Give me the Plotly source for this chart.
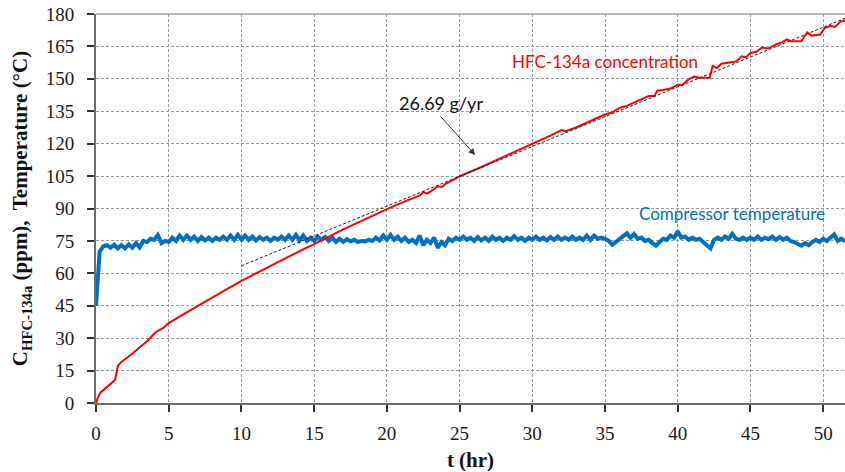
import plotly.graph_objects as go

# ---- data ----
# HFC-134a concentration (ppm) vs time (hr)
hfc_t = [0, 0.1, 0.3, 0.6, 1.0, 1.3, 1.4, 1.5, 1.7, 2.0, 2.5, 3.0, 3.5, 4.0, 4.2, 4.6, 5.0,
         6, 7, 8, 9, 10, 11, 12, 13, 14, 15, 16, 17, 18, 19, 20, 20.5, 21, 21.5, 22, 22.3,
         22.5, 22.8, 23.2, 23.5, 23.8, 24, 24.5, 25, 25.5, 26, 26.5, 27, 27.5, 28, 28.5, 29,
         29.5, 30, 30.5, 31, 31.5, 32, 32.3, 33, 33.5, 34, 34.5, 35, 35.5, 36, 36.5, 37, 37.5,
         38, 38.4, 38.6, 39, 39.5, 40, 40.3, 40.7, 41.1, 41.5, 42.2, 42.4, 42.7, 43, 43.5, 44,
         44.4, 44.7, 45, 45.4, 45.8, 46.2, 46.8, 47.2, 47.5, 47.8, 48.5, 48.9, 49.2, 49.8,
         50.1, 50.5, 50.8, 51.2, 51.5]
hfc_c = [0, 2, 4.8, 6.5, 8.8, 10.6, 13.5, 17, 18.8, 20.2, 22.8, 25.8, 28.5, 32, 33.2, 34.6, 37,
         41, 45, 49, 52.7, 56.5, 60, 63.5, 67, 70.3, 73.5, 77, 80.3, 83.5, 86.7, 89.7, 91.2, 92.6,
         94, 95.5, 96.2, 97.6, 97.0, 98.8, 100.3, 100.0, 101.3, 103, 104.9, 106.3, 107.6, 109.2,
         110.8, 112.3, 114, 115.5, 117, 118.5, 120, 121.5, 123, 124.5, 126.3, 125.8, 127.5, 129,
         130.5, 132, 133.5, 134.5, 136.5, 137.5, 139, 140.5, 142, 142, 144.5, 144.8, 145.5, 147.2,
         147, 149.5, 151, 150.5, 150.5, 156, 155, 157, 157.5, 158, 160.4, 160, 162, 162.5, 164.5,
         164, 166, 167, 168.3, 167.4, 167.4, 171.5, 170, 170.5, 173.5, 174.5, 174, 176.5, 177]

# Compressor temperature (deg C), sampled every 0.25 hr from t = 0
temp_step = 0.25
temp_c = [
    45, 70, 72.5, 73, 71.8, 73.2, 71.5, 73, 71.6, 73.4, 71.8, 74, 72, 75, 74.5, 76, 75.5, 77.8, 74, 75,
    74.5, 76.5, 75, 77.5, 75.5, 77.5, 75.5, 77, 75, 76.8, 75.2, 76.5, 75, 76.5, 75.5, 77, 75.5, 77.5, 75.5, 77.8,
    75.5, 77.5, 75.5, 77, 75.2, 76.8, 75.5, 76.5, 75, 76.5, 75.5, 77, 75.5, 77.5, 75.5, 77.8, 75.2, 77.5, 75, 76.5,
    75, 77, 75.5, 76.8, 75, 76.5, 74.5, 76, 74.5, 75.8, 74.8, 75.5, 74.5, 75, 74.8, 75.5, 75, 76.5, 75.2, 77.5,
    75.5, 77.8, 75.5, 77, 75, 76.5, 74.5, 75.5, 74, 77.5, 73, 75.5, 74, 76.5, 71.8, 74.5, 73, 76, 75, 76.5,
    75.5, 77, 75.5, 76.5, 75, 76.8, 75.2, 76.5, 75, 77, 75.5, 76.5, 75, 76.5, 75.5, 77.2, 75.5, 76.5, 75, 76.5,
    75.5, 77, 75.5, 76.5, 75.2, 76.8, 75.5, 77, 75.5, 76.5, 75.5, 77, 75.5, 76.5, 75.5, 77.5, 75.5, 77.5, 76, 76.5,
    76, 75, 73.2, 74.5, 76, 77, 78.5, 76.5, 78.2, 76, 76.5, 75, 75.5, 74, 72.8, 74.5, 76, 75.5, 77.5, 76.5,
    79.5, 76.5, 77, 75.5, 76.5, 75.5, 76, 74.5, 73, 71.5, 75.5, 76.5, 75.5, 77, 76, 78.3, 76, 75.5, 76.5, 75.5,
    76.5, 75.5, 77, 75.5, 76.5, 75.8, 77, 75.5, 76.8, 75.5, 76.5, 75, 74.5, 73.5, 72.8, 74, 73, 74.5, 75.5, 74.5,
    76, 75, 76.5, 78, 75, 76, 74.8,
]
temp_t = [i * temp_step for i in range(len(temp_c))]

# Linear fit line (26.69 g/yr)
fit_t = [10, 51.5]
fit_c = [63.5, 178]

x_ticks = [0, 5, 10, 15, 20, 25, 30, 35, 40, 45, 50]
y_ticks = [0, 15, 30, 45, 60, 75, 90, 105, 120, 135, 150, 165, 180]

RED = "#FF0000"
BLUE = "#0070C0"
AXIS = "#6E6E6E"
GRID = "#9A9A9A"
SERIF = "Liberation Serif"
SANS = "Lato"

fig = go.Figure()
fig.add_trace(go.Scatter(x=temp_t, y=temp_c, mode="lines",
                         line=dict(color=BLUE, width=4), name="Compressor temperature",
                         showlegend=False))
fig.add_trace(go.Scatter(x=hfc_t, y=hfc_c, mode="lines",
                         line=dict(color=RED, width=2), name="HFC-134a concentration",
                         showlegend=False))
fig.add_trace(go.Scatter(x=fit_t, y=fit_c, mode="lines",
                         line=dict(color="#202020", width=1, dash="3px,2px"),
                         name="fit", showlegend=False))

tick_font = dict(family=SERIF, size=19, color="#1a1a1a")
title_font = dict(family=SERIF, size=21, color="#111111")

fig.update_layout(
    width=845, height=472,
    margin=dict(l=96, r=0, t=14, b=69, autoexpand=False),
    paper_bgcolor="white", plot_bgcolor="white",
    font=dict(family=SERIF, size=19, color="#111111"),
    xaxis=dict(
        range=[0, 51.5], tickvals=x_ticks, ticktext=[str(v) for v in x_ticks],
        tickfont=tick_font, automargin=False,
        showgrid=True, gridcolor=GRID, gridwidth=1, griddash="3px,2px",
        zeroline=False, showline=True, linecolor=AXIS, linewidth=2,
        ticks="outside", ticklen=7, tickwidth=1.5, tickcolor="#333333",
        ticklabelstandoff=5,
        title=dict(text="<b>t (hr)</b>", font=title_font, standoff=10),
    ),
    yaxis=dict(
        range=[0, 180], tickvals=y_ticks, ticktext=[str(v) for v in y_ticks],
        tickfont=tick_font, automargin=False,
        showgrid=True, gridcolor=GRID, gridwidth=1, griddash="3px,2px",
        zeroline=False, showline=True, linecolor=AXIS, linewidth=2,
        ticks="outside", ticklen=7, tickwidth=1.5, tickcolor="#333333",
        ticklabelstandoff=9,
        title=dict(text="<b>C<sub>HFC-134a</sub> (ppm),  Temperature (°C)</b>",
                   font=title_font, standoff=12),
    ),
    shapes=[dict(type="line", xref="paper", yref="paper", x0=0, x1=1, y0=1, y1=1,
                 line=dict(color="#A0A0A0", width=1.5))],
    annotations=[
        dict(x=35.0, y=158, xref="x", yref="y", text="HFC-134a concentration",
             showarrow=False, font=dict(family=SANS, size=17, color=RED)),
        dict(x=43.75, y=87.8, xref="x", yref="y", text="Compressor temperature",
             showarrow=False, font=dict(family=SANS, size=17, color=BLUE)),
        dict(x=23.7, y=138.7, xref="x", yref="y", text="26.69 g/yr",
             showarrow=False, font=dict(family=SANS, size=18, color="#111111")),
        dict(x=26.07, y=114.8, xref="x", yref="y", ax=23.6, ay=133.3,
             axref="x", ayref="y", text="", showarrow=True,
             arrowhead=2, arrowsize=1.3, arrowwidth=1, arrowcolor="#333333"),
    ],
)

fig.write_html("out.html",
               config={"displayModeBar": False},
               post_script="document.body.style.margin='0';document.body.style.overflow='hidden';")
